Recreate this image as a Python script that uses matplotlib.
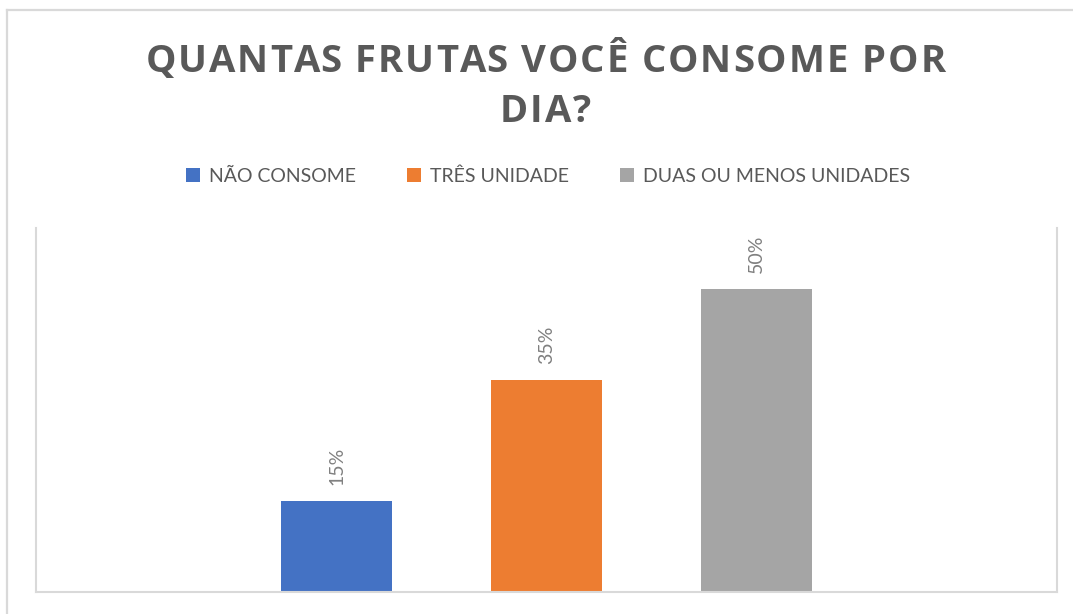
import matplotlib
matplotlib.use("Agg")
import matplotlib.pyplot as plt
from matplotlib.lines import Line2D

# ---- data ----
title_lines = ["QUANTAS FRUTAS VOCÊ CONSOME POR", "DIA?"]
series_names = ["NÃO CONSOME", "TRÊS UNIDADE", "DUAS OU MENOS UNIDADES"]
values = [0.15, 0.35, 0.50]
colors = ["#4472C4", "#ED7D31", "#A5A5A5"]
label_texts = ["15%", "35%", "50%"]

W, H = 1073, 614
fig = plt.figure(figsize=(W / 100, H / 100), dpi=100)
fig.patch.set_facecolor("white")

def fx(px):
    return px / W

def fy(py):
    return 1 - py / H

# outer chart border (cropped on right / bottom)
border_c = "#D9D9D9"
fig.add_artist(Line2D([fx(7), fx(7)], [fy(10), fy(614)], color=border_c, lw=1.6, transform=fig.transFigure))
fig.add_artist(Line2D([fx(7), 1.0], [fy(10), fy(10)], color=border_c, lw=1.6, transform=fig.transFigure))

# plot area
left, right, top, bottom = 36, 1057, 228, 592
ax = fig.add_axes([fx(left), fy(bottom), fx(right - left), (bottom - top) / H])
ax.set_facecolor("white")
xs = [-1, 0, 1]
bar_w = 111 / 210
bars = []
for x, v, c, n in zip(xs, values, colors, series_names):
    b = ax.bar(x, v, width=bar_w, color=c, label=n, zorder=2)
    bars.append(b)
half = (right - left) / 2 / 210
ax.set_xlim(-half, half)
ax.set_ylim(0, 0.60)
ax.set_xticks([])
ax.set_yticks([])
for s in ["left", "right", "bottom"]:
    ax.spines[s].set_color(border_c)
    ax.spines[s].set_linewidth(1.5)
ax.spines["top"].set_visible(False)

# data labels
for x, v, t in zip(xs, values, label_texts):
    ax.annotate(t, xy=(x, v), xytext=(0, 16), textcoords="offset pixels",
                rotation=90, ha="center", va="bottom", fontsize=14,
                family="Lato", color="#808080")

# title with letter spacing
title_color = "#595959"
title_fp = dict(family="Open Sans", weight="bold", size=27.5)
renderer = fig.canvas.get_renderer()

def text_width(s):
    t = fig.text(0, 0, s + "H", **title_fp)
    w = t.get_window_extent(renderer).width
    t.remove()
    t = fig.text(0, 0, "H", **title_fp)
    w2 = t.get_window_extent(renderer).width
    t.remove()
    return w - w2

def draw_spaced(line, center_px, baseline_px, spacing):
    natural = text_width(line)
    total = natural + spacing * (len(line) - 1)
    x0 = center_px - total / 2
    for i, ch in enumerate(line):
        xpos = x0 + text_width(line[:i]) + spacing * i
        fig.text(fx(xpos), fy(baseline_px), ch, ha="left", va="baseline",
                 color=title_color, **title_fp)

nat1 = text_width(title_lines[0])
sp = (800 - nat1) / (len(title_lines[0]) - 1)
draw_spaced(title_lines[0], 545.5, 72, sp)
draw_spaced(title_lines[1], 545.5, 122, sp)

# legend
handles = [b.patches[0] for b in bars]
leg = fig.legend(handles, series_names, loc="center", bbox_to_anchor=(fx(548), fy(176)),
                 ncol=3, frameon=False, handlelength=0.75, handleheight=0.75,
                 handletextpad=0.45, columnspacing=2.6,
                 prop=dict(family="Lato", size=14))
for t in leg.get_texts():
    t.set_color("#595959")

fig.savefig("out.png", dpi=100, facecolor="white")
